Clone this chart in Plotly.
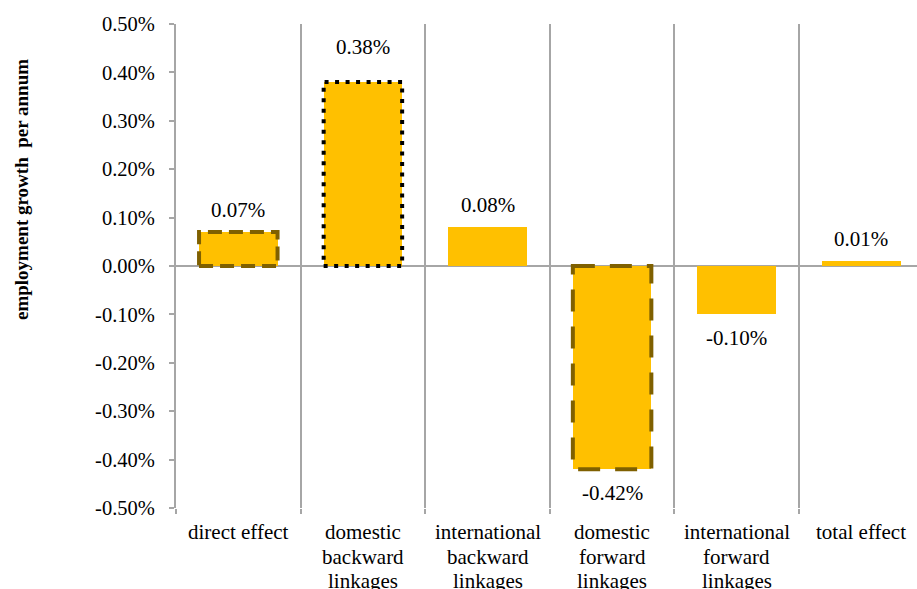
import plotly.graph_objects as go

# Decomposition of annual employment growth (shares, 0.0038 = 0.38%)
categories = [
    "direct effect",
    "domestic<br>backward<br>linkages",
    "international<br>backward<br>linkages",
    "domestic<br>forward<br>linkages",
    "international<br>forward<br>linkages",
    "total effect",
]
growth = [0.0007, 0.0038, 0.0008, -0.0042, -0.0010, 0.0001]
y_ticks = [-0.005, -0.004, -0.003, -0.002, -0.001, 0.0, 0.001, 0.002, 0.003, 0.004, 0.005]
y_tick_text = [f"{t:.2%}" for t in y_ticks]

# Styling
FONT = "Liberation Serif"
BAR_FILL = "#FFC000"
GRID = "#A6A6A6"
BAR_WIDTH = 0.63
LABEL_GAP = 24        # first category-label line below the plot, px
LINE_STEP = 24.5      # spacing between wrapped category-label lines, px
outline_styles = {
    0: dict(color="#7F6000", dash="14px,7px", width=4),
    1: dict(color="#000000", dash="4px,6.5px", width=4),
    3: dict(color="#7F6000", dash="22px,15px", width=4),
}
label_shift = {1: 35}

fig = go.Figure(
    go.Bar(
        x=categories,
        y=growth,
        width=BAR_WIDTH,
        marker=dict(color=BAR_FILL, line=dict(width=0)),
        hoverinfo="skip",
    )
)

# Dashed / dotted outlines around the highlighted bars
for i, style in outline_styles.items():
    fig.add_shape(
        type="rect",
        xref="x", yref="y",
        x0=i - BAR_WIDTH / 2, x1=i + BAR_WIDTH / 2,
        y0=0, y1=growth[i],
        line=dict(color=style["color"], dash=style["dash"], width=style["width"]),
        fillcolor="rgba(0,0,0,0)",
        layer="above",
    )

# Value labels above positive bars, below negative ones
for i, v in enumerate(growth):
    shift = label_shift.get(i, 22)
    fig.add_annotation(
        x=categories[i], y=v,
        text=f"{v:.2%}",
        showarrow=False,
        yanchor="middle",
        yshift=shift if v >= 0 else -24,
        font=dict(family=FONT, size=21, color="black"),
    )

# Category labels, one annotation per wrapped line for tighter line spacing
for cat in categories:
    for k, line in enumerate(cat.split("<br>")):
        fig.add_annotation(
            x=cat, xref="x",
            y=0, yref="paper",
            text=line,
            showarrow=False,
            yanchor="middle",
            yshift=-(LABEL_GAP + k * LINE_STEP),
            font=dict(family=FONT, size=21, color="black"),
        )

fig.add_annotation(
    xref="paper", yref="paper",
    x=(22 - 176) / 741, y=(508 - 190) / 484,
    text="<b>employment growth  per annum</b>",
    textangle=-90,
    showarrow=False,
    xanchor="center", yanchor="middle",
    font=dict(family=FONT, size=19, color="black"),
)

fig.update_layout(
    width=917, height=589,
    margin=dict(l=176, r=0, t=24, b=81),
    paper_bgcolor="white",
    plot_bgcolor="white",
    showlegend=False,
    bargap=0,
    font=dict(family=FONT, size=20, color="black"),
    xaxis=dict(
        type="category",
        range=[-0.5, 5.447],
        automargin=False,
        tickson="boundaries",
        ticks="outside",
        ticklen=5,
        tickcolor=GRID,
        tickwidth=2,
        showgrid=True,
        gridcolor=GRID,
        gridwidth=2,
        showline=False,
        zeroline=False,
        showticklabels=False,
    ),
    yaxis=dict(
        range=[-0.005, 0.005],
        automargin=False,
        tickvals=y_ticks,
        ticktext=y_tick_text,
        ticks="outside",
        ticklen=5,
        tickcolor=GRID,
        tickwidth=2,
        showline=True,
        linecolor=GRID,
        linewidth=2,
        showgrid=False,
        zeroline=True,
        zerolinecolor=GRID,
        zerolinewidth=2,
        tickfont=dict(family=FONT, size=20.5, color="black"),
        ticklabelstandoff=10,
    ),
)

fig.write_html("out.html")
